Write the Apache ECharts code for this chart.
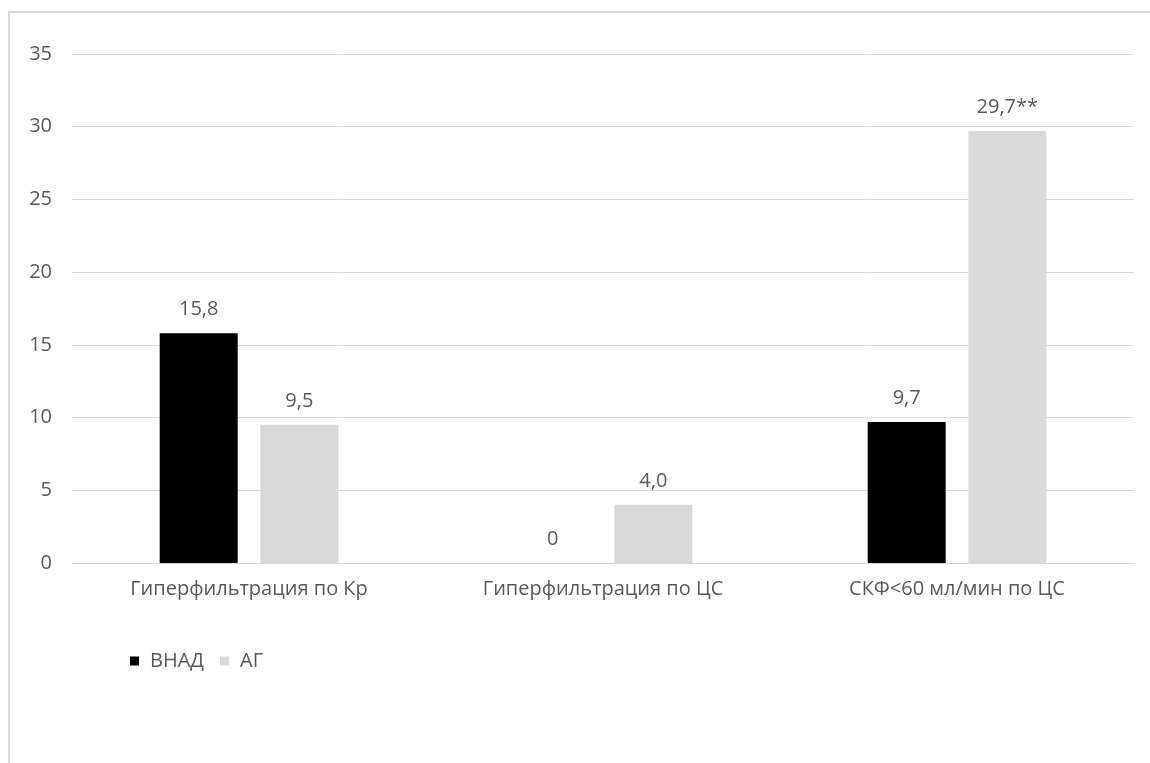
<!DOCTYPE html>
<html>
<head>
<meta charset="utf-8">
<script src="https://cdn.jsdelivr.net/npm/echarts@6/dist/echarts.min.js"></script>
<style>
html, body { margin: 0; padding: 0; background: #fff; }
#chart { width: 1150px; height: 763px; }
</style>
</head>
<body>
<div id="chart"></div>
<script>
var categories = ['Гиперфильтрация по Кр', 'Гиперфильтрация по ЦС', 'СКФ<60 мл/мин по ЦС'];
var vnadValues = [15.8, 0, 9.7];
var agValues = [9.5, 4.0, 29.7];
var vnadLabels = ['15,8', '0', '9,7'];
var agLabels = ['9,5', '4,0', '29,7**'];
var yTicks = [0, 5, 10, 15, 20, 25, 30, 35];

var textColor = '#595959';
var fontFamily = '"Open Sans", "Noto Sans", sans-serif';
var fontSize = 20;

var chart = echarts.init(document.getElementById('chart'));

function labelFrom(list) {
	return {
		show : true,
		position : 'top',
		distance : 14,
		color : textColor,
		fontSize : fontSize,
		fontFamily : fontFamily,
		formatter : function(p) {
			return list[p.dataIndex];
		}
	};
}

var option = {
	animation : false,
	textStyle : { fontFamily : fontFamily },
	graphic : [ {
		type : 'rect',
		shape : { x : 9, y : 12, width : 1160, height : 780 },
		style : { fill : 'none', stroke : '#d9d9d9', lineWidth : 2 }
	} ],
	grid : { left : 72, right : 16, top : 54, bottom : 200 },
	legend : {
		left : 125,
		top : 646,
		itemWidth : 9,
		itemHeight : 9,
		itemGap : 16,
		icon : 'rect',
		textStyle : { color : textColor, fontSize : fontSize, fontFamily : fontFamily, padding : [0, 0, 0, 6] },
		data : ['ВНАД', 'АГ']
	},
	xAxis : {
		type : 'category',
		data : categories,
		axisLine : { lineStyle : { color : '#d9d9d9', width : 1 } },
		axisTick : { show : false },
		axisLabel : { color : textColor, fontSize : fontSize, margin : 16, fontFamily : fontFamily }
	},
	yAxis : {
		type : 'value',
		min : yTicks[0],
		max : yTicks[yTicks.length - 1],
		interval : 5,
		axisLine : { show : false },
		axisTick : { show : false },
		splitLine : { lineStyle : { color : '#d9d9d9' } },
		axisLabel : { color : textColor, fontSize : fontSize, margin : 20, fontFamily : fontFamily }
	},
	series : [ {
		name : 'ВНАД',
		type : 'bar',
		data : vnadValues,
		barWidth : 78,
		barGap : '29%',
		itemStyle : { color : '#000000' },
		label : labelFrom(vnadLabels)
	}, {
		name : 'АГ',
		type : 'bar',
		data : agValues,
		barWidth : 78,
		itemStyle : { color : '#d9d9d9' },
		label : labelFrom(agLabels)
	} ]
};

chart.setOption(option);
</script>
</body>
</html>
